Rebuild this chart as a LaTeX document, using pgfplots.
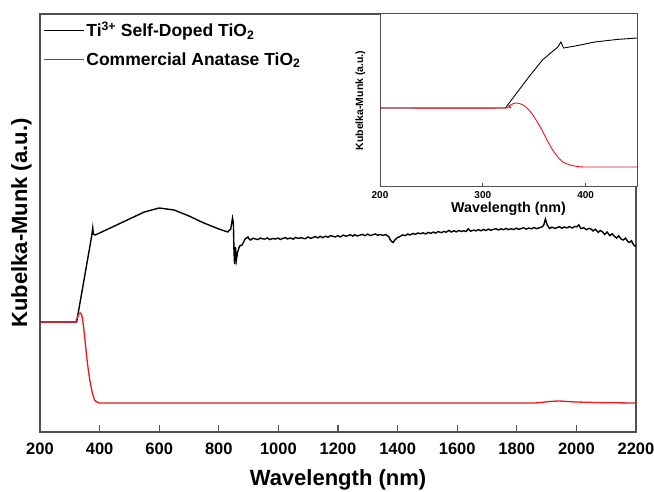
\documentclass[border=0pt]{standalone}
\usepackage{fontspec}
\setmainfont{Liberation Sans}
\usepackage{pgfplots}
\pgfplotsset{compat=1.18}
\pgfplotsset{legend image code/.code={\draw[#1] (0bp,0bp) -- (40bp,0bp);}}
\definecolor{axgray}{HTML}{505050}
\definecolor{myred}{HTML}{E8161E}
\begin{document}
\begin{tikzpicture}
\useasboundingbox (0,0) rectangle (654bp,492bp);
\begin{axis}[
  at={(40bp,60bp)}, anchor=south west,
  scale only axis, width=596bp, height=418bp,
  xmin=200, xmax=2200, ymin=0, ymax=418,
  xtick={200,400,...,2200}, ytick=\empty,
  xtick pos=bottom, tick align=inside,
  major tick length=7bp,
  axis line style={axgray, line width=1.2pt},
  every tick/.style={axgray, line width=1.2pt},
  /pgf/number format/assume math mode=true,
  /pgf/number format/1000 sep={},
  xticklabel style={font=\fontsize{16.5bp}{18bp}\selectfont\bfseries, anchor=base, inner sep=0pt, yshift=-22bp},
  xlabel={Wavelength (nm)},
  xlabel style={font=\fontsize{22bp}{24bp}\selectfont\bfseries, at={(axis description cs:0.5,-0.129)}, anchor=base, inner sep=0pt},
  ylabel={Kubelka-Munk (a.u.)},
  ylabel style={font=\fontsize{22bp}{24bp}\selectfont\bfseries, at={(axis description cs:-0.0218,0.5)}, anchor=base, inner sep=0pt, rotate=0},
  legend style={draw=none, fill=none, at={(axis description cs:0,1)}, anchor=north west,
    font=\fontsize{17.5bp}{19bp}\selectfont\bfseries, inner xsep=3bp, inner ysep=6bp, row sep=10bp},
  legend cell align=left,
]
\addlegendimage{black, line width=1.2pt}
\addlegendentry{Ti\textsuperscript{3+} Self-Doped TiO\textsubscript{2}}
\addlegendimage{myred, line width=1.2pt}
\addlegendentry{Commercial Anatase TiO\textsubscript{2}}
\addplot[black, line width=1.4pt, forget plot] coordinates {
(200,110) (323,110) (330,122) (340,139) (350,156) (360,173) (370,190) (375,199) (377,204) (379,198) (385,197)
(400,199) (450,206) (500,213) (550,220) (600,224) (650,222) (700,216) (750,209) (800,203) (830,200)
(840,203) (846,214) (849,209) (851,180) (853,168) (856,185) (859,172) (863,180) (870,186) (878,187) (888,193) (898,195)
(900,193.5) (907,192.0) (915,193.8) (922,193.1) (931,192.4) (940,194.0) (946,193.2) (955,192.9) (963,194.1) (970,192.4) (981,193.5) (990,193.0)
(1000,193.9) (1006,192.5) (1015,193.6) (1024,194.4) (1030,193.1) (1041,194.0) (1050,192.8) (1057,194.6) (1068,193.5) (1075,194.3) (1083,193.7) (1090,193.3)
(1100,195.0) (1108,193.6) (1117,194.6) (1124,195.3) (1133,194.1) (1140,195.7) (1148,194.4) (1159,195.8) (1166,194.7) (1174,196.2) (1182,195.9) (1190,195.0)
(1200,196.4) (1207,195.0) (1218,196.9) (1226,195.8) (1233,196.3) (1241,197.2) (1250,195.9) (1256,197.4) (1265,196.0) (1273,196.8) (1282,197.6) (1290,196.3)
(1300,197.9) (1308,196.4) (1316,197.2) (1325,198.0) (1333,196.7) (1342,197.5) (1350,196.6) (1360,197.4) (1370,195.5) (1378,191.0) (1385,189.5)
(1392,192.5) (1400,194.5) (1410,195.8) (1417,197.1) (1426,196.3) (1434,198.0) (1441,197.0) (1452,198.5) (1460,197.6) (1467,199.0) (1478,198.3)
(1486,199.2) (1494,198.0) (1503,199.6) (1512,198.6) (1520,200.0) (1527,198.9) (1536,200.4) (1548,199.3) (1555,200.6) (1563,199.8) (1572,201.6)
(1580,200.0) (1589,201.3) (1597,200.1) (1606,201.5) (1614,200.6) (1622,201.2) (1630,200.5) (1637,203.2) (1645,200.8) (1656,201.9) (1663,201.1)
(1671,202.4) (1680,201.2) (1688,202.6) (1696,201.5) (1705,202.9) (1713,201.7) (1722,202.6) (1730,203.3) (1738,202.0) (1747,203.1) (1756,202.3)
(1764,203.6) (1772,202.4) (1781,203.2) (1790,202.4) (1798,203.9) (1806,202.7) (1815,203.5) (1823,204.2) (1832,202.9) (1840,204.0) (1849,203.1)
(1857,204.5) (1866,203.3) (1874,204.1) (1882,204.8) (1890,206.5) (1896,213.0) (1902,207.0) (1910,203.5) (1918,204.9) (1927,203.6) (1935,204.4)
(1943,205.3) (1951,203.8) (1960,205.0) (1968,204.1) (1977,205.4) (1986,204.0) (1995,205.6) (2002,205.2) (2008,207.2) (2015,203.5) (2025,204.2)
(2033,202.3) (2042,203.6) (2050,202.8) (2056,201.0) (2064,202.7) (2073,199.6) (2080,201.5) (2088,200.0) (2095,197.5) (2103,200.0) (2112,196.3)
(2120,198.2) (2127,195.8) (2135,194.0) (2142,196.2) (2150,193.0) (2157,192.0) (2165,193.8) (2172,190.6) (2178,189.5) (2185,191.2) (2192,187.0) (2200,185.5)
};
\addplot[myred, line width=1.3pt, smooth, tension=0.3, forget plot] coordinates {
(200,110) (315,110) (322,112) (330,118) (335,119) (340,117) (345,108) (350,95) (355,80) (360,67) (367,52) (375,40)
(383,32) (392,30) (400,29) (500,29) (800,29) (1200,29) (1600,29) (1850,29) (1880,29.5) (1910,30.5) (1940,31) (1970,30.5)
(2000,30) (2100,29.3) (2200,29)
};
\end{axis}
\begin{axis}[
  at={(380bp,305bp)}, anchor=south west,
  scale only axis, width=257bp, height=173bp,
  xmin=200, xmax=450, ymin=0, ymax=173,
  xtick={200,300,400}, ytick=\empty,
  xtick pos=bottom, tick align=inside,
  major tick length=4bp,
  axis background/.style={fill=white},
  axis line style={axgray, line width=1pt},
  every tick/.style={axgray, line width=0.8pt},
  /pgf/number format/assume math mode=true,
  xticklabel style={font=\fontsize{10bp}{11bp}\selectfont\bfseries, anchor=base, inner sep=0pt, yshift=-11.5bp},
  xlabel={Wavelength (nm)},
  xlabel style={font=\fontsize{14.3bp}{16bp}\selectfont\bfseries, at={(axis description cs:0.5,-0.150)}, anchor=base, inner sep=0pt},
  ylabel={Kubelka-Munk (a.u.)},
  ylabel style={font=\fontsize{10.5bp}{12bp}\selectfont\bfseries, at={(axis description cs:-0.066,0.5)}, anchor=base, inner sep=0pt},
]
\addplot[black, line width=0.9pt] coordinates {
(200,79) (322,79) (344,109) (358,127) (373,140) (376,145) (378.6,139) (390,141) (409,145) (430,147.5) (450,149)
};
\addplot[myred, line width=0.9pt, smooth, tension=0.4] coordinates {
(200,79) (320,79) (325,81) (330,83.5) (333,84) (337,83) (342,80) (348,73) (353,65) (358,56) (363,46) (368,37)
(373,30) (378,25) (385,22) (392,20.5) (400,20) (450,20)
};
\end{axis}
\end{tikzpicture}
\end{document}
